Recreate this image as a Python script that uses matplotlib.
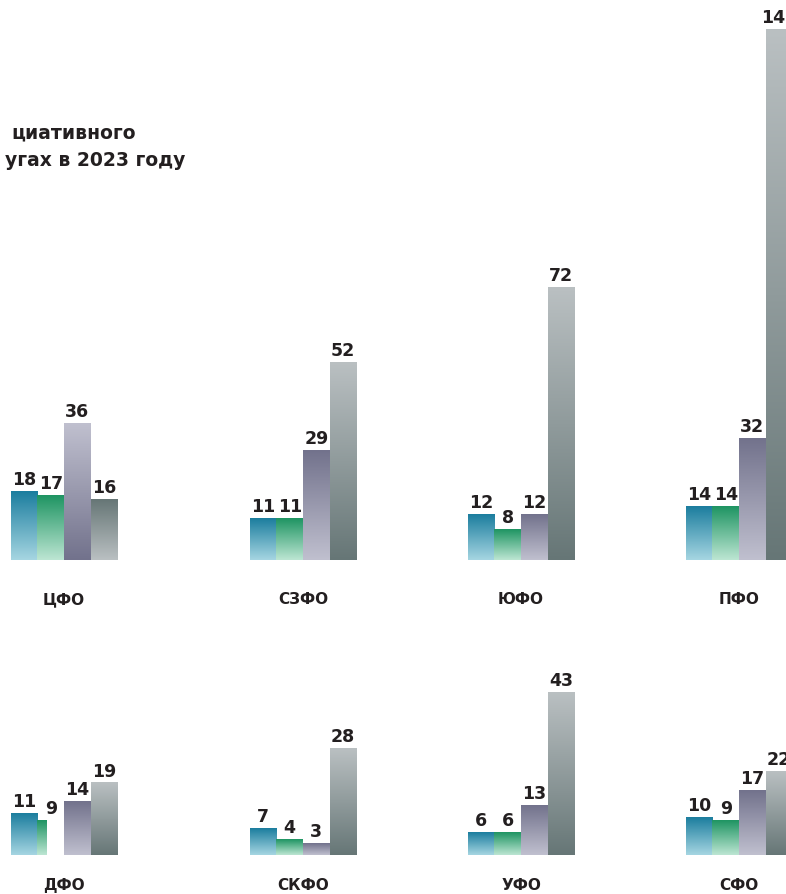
import matplotlib
matplotlib.use('Agg')
import matplotlib.pyplot as plt
import numpy as np
from matplotlib.colors import LinearSegmentedColormap

'''Data'''
top_regions = ['ЦФО', 'СЗФО', 'ЮФО', 'ПФО']
top_s1 = [18, 11, 12, 14]
top_s2 = [17, 11, 8, 14]
top_s3 = [36, 29, 12, 32]
top_s4 = [16, 52, 72, 140]

bottom_regions = ['ДФО', 'СКФО', 'УФО', 'СФО']
bot_s1 = [11, 7, 6, 10]
bot_s2 = [9, 4, 6, 9]
bot_s3 = [14, 3, 13, 17]
bot_s4 = [19, 28, 43, 22]

title_lines = ['циативного', 'угах в 2023 году']

'''Layout / style'''
W, H = 786, 895
px_per_unit = 3.79
group_x = [64, 303, 521, 739]
bar_w = 26.6
text_col = '#231f20'
# (top colour, bottom colour)
grad = [('#1b7d9e', '#a6d6e2'),
        ('#1e9462', '#bde6d3'),
        ('#72728c', '#c0c0cf'),
        ('#bac0c2', '#667676')]

plt.rcParams['font.family'] = ['DejaVu Sans']

fig = plt.figure(figsize=(W / 100, H / 100), dpi=100)


def make_axes(base_px, top_px):
    # base_px / top_px measured from top of image
    ax = fig.add_axes([0, (H - base_px) / H, 1, (base_px - top_px) / H])
    ax.set_xlim(0, W)
    ax.set_ylim(0, (base_px - top_px) / px_per_unit)
    ax.axis('off')
    return ax


def draw_row(ax, regions, series, label_off, flips=(), narrow=()):
    for k, vals in enumerate(series):
        offs = (k - 1.5) * bar_w
        for i, v in enumerate(vals):
            cx = group_x[i] + offs
            w = bar_w
            left = cx - bar_w / 2
            if (i, k) in narrow:
                w = 10
            b = ax.bar(left, v, width=w, align='edge', color='none', linewidth=0)[0]
            c_top, c_bot = grad[k]
            if (i, k) in flips:
                c_top, c_bot = c_bot, c_top
            cmap = LinearSegmentedColormap.from_list('g', [c_bot, c_top])
            g = np.linspace(0, 1, 256).reshape(-1, 1)
            ax.imshow(g, cmap=cmap, origin='lower', aspect='auto',
                      extent=(b.get_x(), b.get_x() + b.get_width(), 0, b.get_height()),
                      interpolation='bicubic', zorder=2)
            ax.annotate(str(v), (cx, v), xytext=(0, 2.5), textcoords='offset points',
                        ha='center', va='bottom', fontsize=12.5, fontweight='bold',
                        color=text_col, annotation_clip=False)
    for i, r in enumerate(regions):
        ax.annotate(r, (group_x[i], 0), xytext=(0, -label_off), textcoords='offset points',
                    ha='center', va='center', fontsize=11, fontweight='bold',
                    color=text_col, annotation_clip=False)
    ax.set_xlim(0, W)


ax_top = make_axes(561, 0)
draw_row(ax_top, top_regions, [top_s1, top_s2, top_s3, top_s4], 28,
         flips=[(0, 2), (0, 3)])

ax_bot = make_axes(856, 640)
draw_row(ax_bot, bottom_regions, [bot_s1, bot_s2, bot_s3, bot_s4], 21.5,
         narrow=[(0, 1)])

fig.text(136 / W, 1 - 133 / H, title_lines[0], ha='right', va='center',
         fontsize=13.5, fontweight='bold', color=text_col)
fig.text(185 / W, 1 - 161 / H, title_lines[1], ha='right', va='center',
         fontsize=13.5, fontweight='bold', color=text_col)

fig.savefig('out.png', dpi=100, facecolor='white')
